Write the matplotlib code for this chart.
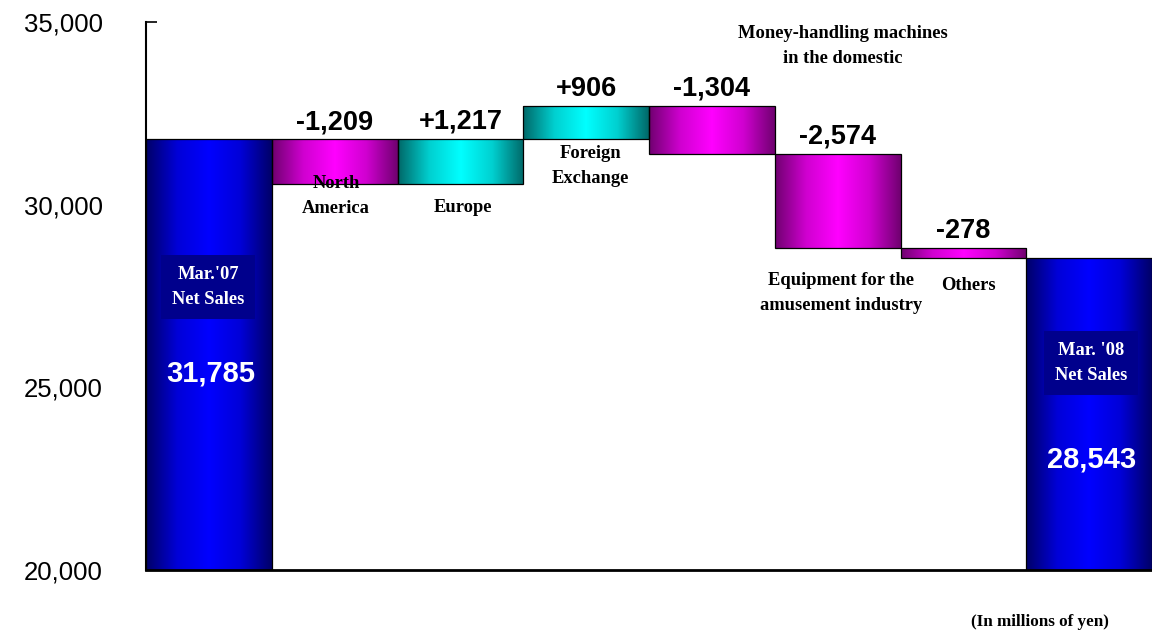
import numpy as np
import matplotlib
matplotlib.use("Agg")
import matplotlib.pyplot as plt
from matplotlib.colors import LinearSegmentedColormap

# ---- data ----
categories = ["Mar.'07\nNet Sales", "North\nAmerica", "Europe", "Foreign\nExchange",
              "Money-handling machines\nin the domestic",
              "Equipment for the\namusement industry", "Others", "Mar. '08\nNet Sales"]
start_value = 31785
changes = [-1209, 1217, 906, -1304, -2574, -278]
end_value = 28543
change_labels = ["-1,209", "+1,217", "+906", "-1,304", "-2,574", "-278"]
total_labels = ["31,785", "28,543"]
yticks = [20000, 25000, 30000, 35000]
ytick_labels = ["20,000", "25,000", "30,000", "35,000"]

W, H = 1152, 631
fig = plt.figure(figsize=(W / 100, H / 100), dpi=100)
ax = fig.add_axes([146 / W, 1 - 570 / H, 1 - 146 / W, (570 - 22) / H])

# build waterfall geometry
bottoms, heights, kinds = [], [], []
bottoms.append(20000); heights.append(start_value - 20000); kinds.append("total")
level = start_value
for c in changes:
    new = level + c
    bottoms.append(min(level, new)); heights.append(abs(c))
    kinds.append("up" if c > 0 else "down")
    level = new
bottoms.append(20000); heights.append(end_value - 20000); kinds.append("total")

x = np.arange(len(bottoms))
bars = ax.bar(x, heights, bottom=bottoms, width=1.0, facecolor="none",
              edgecolor="black", linewidth=0.9, zorder=3)

def grad_cmap(edge, mid, center):
    return LinearSegmentedColormap.from_list(
        "g", [(0, edge), (0.25, mid), (0.5, center), (0.75, mid), (1, edge)])

cmaps = {
    "total": grad_cmap("#000068", "#0000D8", "#0000FF"),
    "up": grad_cmap("#006868", "#00D0D0", "#00FFFF"),
    "down": grad_cmap("#700070", "#D000D0", "#FF00FF"),
}
t = np.linspace(0, 1, 256)
prof = t.reshape(1, -1)
for b, k in zip(bars, kinds):
    x0, y0 = b.get_x(), b.get_y()
    im = ax.imshow(prof, extent=(x0, x0 + b.get_width(), y0, y0 + b.get_height()),
                   aspect="auto", cmap=cmaps[k], origin="lower", zorder=2,
                   interpolation="bilinear")
    im.set_clip_path(b)

ax.set_xlim(-0.5, len(bottoms) - 0.5)
ax.set_ylim(20000, 35000)
ax.set_yticks(yticks)
ax.set_yticklabels(ytick_labels, fontsize=18.5, fontfamily="Liberation Sans")
ax.tick_params(axis="y", direction="in", length=8, width=1.2, pad=31)
ax.set_xticks([])
for s in ["top", "right"]:
    ax.spines[s].set_visible(False)
ax.spines["left"].set_linewidth(1.5)
ax.spines["bottom"].set_linewidth(2.0)

# change value labels
for i, lab in enumerate(change_labels, start=1):
    top = bottoms[i] + heights[i]
    ax.annotate(lab, (x[i], top), xytext=(0, 3), textcoords="offset points",
                ha="center", va="bottom", fontsize=19.5, fontweight="bold",
                fontfamily="Liberation Sans", color="black", zorder=5)

serif = dict(fontfamily="Liberation Serif", fontweight="bold", fontsize=13.3,
             ha="center", va="center", linespacing=1.55)

def fig_text(px, py, s, **kw):
    fig.text(px / W, 1 - py / H, s, **kw)

# category labels
fig_text(336, 196, categories[1], **serif)
fig_text(463, 208, categories[2], **serif)
fig_text(590, 166, categories[3], **serif)
fig_text(843, 46, categories[4], **serif)
fig_text(841, 293, categories[5], **serif)
fig_text(968, 286, categories[6], **serif)
box = dict(facecolor="#00008C", edgecolor="none", pad=8)
fig_text(208, 287, categories[0], color="white", bbox=box, **serif)
fig_text(1091, 363, categories[7], color="white", bbox=box, **serif)

# totals
fig_text(211, 373, total_labels[0], color="white", fontsize=21, fontweight="bold",
         fontfamily="Liberation Sans", ha="center", va="center")
fig_text(1092, 460, total_labels[1], color="white", fontsize=21, fontweight="bold",
         fontfamily="Liberation Sans", ha="center", va="center")

fig_text(1040, 622, "(In millions of yen)", fontfamily="Liberation Serif",
         fontweight="bold", fontsize=12.3, ha="center", va="center")

fig.savefig("out.png", dpi=100)
